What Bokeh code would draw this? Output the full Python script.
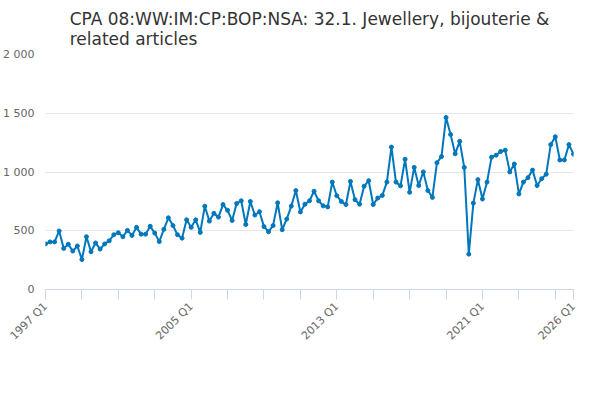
from bokeh.plotting import figure
from bokeh.models import FixedTicker, Legend, LegendItem, Label
from bokeh.embed import file_html
from bokeh.resources import INLINE
import math

start_year = 1997
values = [388,405,405,498,350,385,327,370,255,449,321,396,344,388,414,466,
          483,449,503,460,529,471,471,538,480,408,512,610,544,466,437,593,
          529,593,486,709,582,648,616,723,674,587,732,755,553,749,634,662,
          535,492,544,738,509,600,710,842,660,726,755,836,755,712,703,914,
          798,749,723,920,764,726,879,926,723,778,801,914,1212,914,882,1108,
          827,1039,885,1001,842,784,1079,1131,1464,1319,1155,1261,1039,301,735,935,
          770,914,1126,1143,1175,1186,1001,1068,813,914,952,1016,885,943,981,1233,
          1300,1102,1102,1233,1152]
labels = {i: f"{start_year + i//4} Q{i%4+1}" for i in range(len(values))}
label_ticks = [0, 32, 64, 96, 116]
series_name = "CPA 08:WW:IM:CP:BOP:NSA: 32.1. Jewellery, bijouterie & related articles"
x = list(range(len(values)))
FONT = "DejaVu Sans"

p = figure(width=584, height=392, output_backend="svg", toolbar_location=None,
           x_range=(0, len(values)-1), y_range=(0, 2000),
           min_border_left=10, min_border_right=11, min_border_bottom=103, min_border_top=10)
p.title.text = "CPA 08:WW:IM:CP:BOP:NSA: 32.1. Jewellery, bijouterie &\nrelated articles"
p.title.align = "center"
p.title.text_font = FONT
p.title.text_font_size = "17px"
p.title.text_font_style = "normal"
p.title.text_color = "#333333"
p.title.standoff = 12

col = "#0077bb"
r1 = p.line(x, values, line_color=col, line_width=2)
r2 = p.scatter(x, values, size=4, color=col)

p.xaxis.ticker = FixedTicker(ticks=list(range(0, 113, 8)) + [116])
p.xaxis.major_label_overrides = {i: (labels[i] if i in label_ticks else "") for i in range(0, 117)}
p.xaxis.major_label_orientation = math.pi/4
p.xaxis.axis_line_color = "#ccd6eb"
p.xaxis.major_tick_line_color = "#ccd6eb"
p.xaxis.major_tick_in = 0
p.xaxis.major_tick_out = 10
p.xaxis.minor_tick_line_color = None
p.xaxis.major_label_text_color = "#666666"
p.xaxis.major_label_text_font = FONT
p.xaxis.major_label_text_font_size = "11px"

p.yaxis.ticker = FixedTicker(ticks=[0, 500, 1000, 1500, 2000])
p.yaxis.major_label_overrides = {0: "0", 500: "500", 1000: "1 000", 1500: "1 500", 2000: "2 000"}
p.yaxis.axis_line_color = None
p.yaxis.major_tick_line_color = None
p.yaxis.minor_tick_line_color = None
p.yaxis.major_label_text_color = "#666666"
p.yaxis.major_label_text_font = FONT
p.yaxis.major_label_text_font_size = "11px"

p.xgrid.grid_line_color = None
p.ygrid.grid_line_color = "#e6e6e6"
p.outline_line_color = None

legend = Legend(items=[LegendItem(label=series_name, renderers=[r1, r2])],
                location=(-28, -88), border_line_color=None, background_fill_alpha=0,
                label_text_font=FONT, label_text_font_size="12px", label_text_font_style="bold",
                label_text_color="#333333", glyph_width=16, padding=2, margin=0)
p.add_layout(legend)
p.add_layout(Label(x=523, y=-100, x_units="screen", y_units="screen", text="Source:",
                   text_align="right", text_font=FONT, text_font_size="11px",
                   text_color="#666666"))

open("out.html", "w").write(file_html(p, INLINE))
